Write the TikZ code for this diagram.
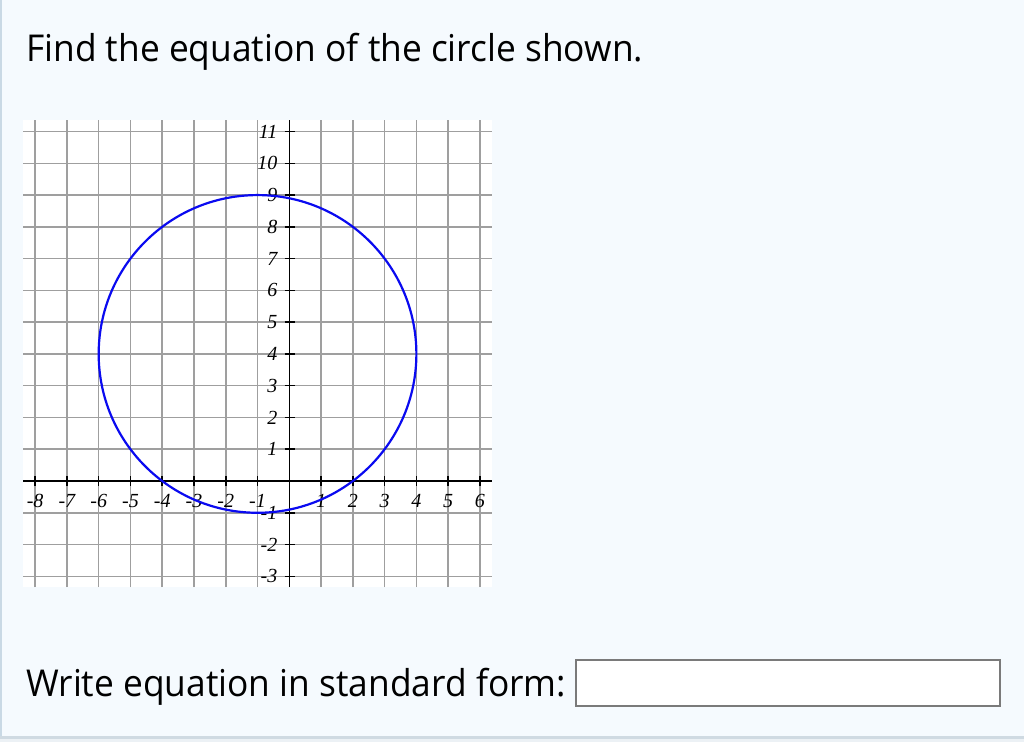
\documentclass[tikz,border=0pt]{standalone}
\usepackage{fontspec}
\setmainfont{Liberation Serif}
\newfontfamily\promptfont[FakeStretch=0.955]{Open Sans}
\usetikzlibrary{positioning, calc}

\definecolor{pagebg}{HTML}{F5FAFE}
\definecolor{edgeblue}{HTML}{C9D9E5}
\definecolor{stripline}{HTML}{CFDAE2}
\definecolor{stripbg}{HTML}{ECF1F5}
\definecolor{boxgray}{HTML}{7A7A7A}
\definecolor{curveblue}{HTML}{0A0AF0}

\tikzset{
  gridline/.style={draw=gray!75, line width=1.5pt},
  axisline/.style={draw=black, line width=1.6pt},
  ticklabel/.style={font=\fontsize{20}{20}\selectfont\itshape, inner sep=0pt},
  prompt/.style={font=\promptfont\fontsize{37}{44}\selectfont, inner sep=0pt, anchor=base west},
  answerbox/.style={draw=boxgray, line width=2.2pt, fill=white, minimum width=424pt, minimum height=46pt, inner sep=0pt}
}

\begin{document}
\begin{tikzpicture}[x=1pt,y=-1pt]
\useasboundingbox (0,0) rectangle (1024,742);
\fill[pagebg] (0,0) rectangle (1024,742);
\fill[edgeblue] (0,0) rectangle (1.5,736);
\fill[stripline] (0,736) rectangle (1024,738.5);
\fill[stripbg] (0,738.5) rectangle (1024,742);

\node[prompt] (title) at (26,61) {Find the equation of the circle shown.};

% graph
\fill[white] (23.3,120) rectangle (491.7,587);
\begin{scope}[shift={(289.3,481)}, x=31.77pt, y=31.77pt]
\foreach \i in {-8,...,6}
  \draw[gridline] (\i,-3.34) -- (\i,11.36);
\foreach \j in {-3,...,11}
  \draw[gridline] (-8.37,\j) -- (6.37,\j);
\draw[axisline] (-8.37,0) -- (6.37,0);
\draw[axisline] (0,-3.34) -- (0,11.36);
% ticks and numbers
\foreach \i in {-8,-7,-6,-5,-4,-3,-2,-1,1,2,3,4,5,6}{
  \draw[axisline] (\i,0.15) -- (\i,-0.15);
  \node[ticklabel] (xl\i) at (\i,-0.64) {\i};
}
\foreach \j in {-3,-2,-1,1,2,3,4,5,6,7,8,9,10,11}{
  \draw[axisline] (-0.15,\j) -- (0.17,\j);
  \node[ticklabel, anchor=east] (yl\j) at (-0.37,\j) {\j};
}
\draw[curveblue, line width=2.2pt] (-1,4) circle (5);
\end{scope}

\node[prompt] (ask) at (26,696) {Write equation in standard form:};
\node[answerbox] (answer) at (788,683) {};
\end{tikzpicture}
\end{document}
